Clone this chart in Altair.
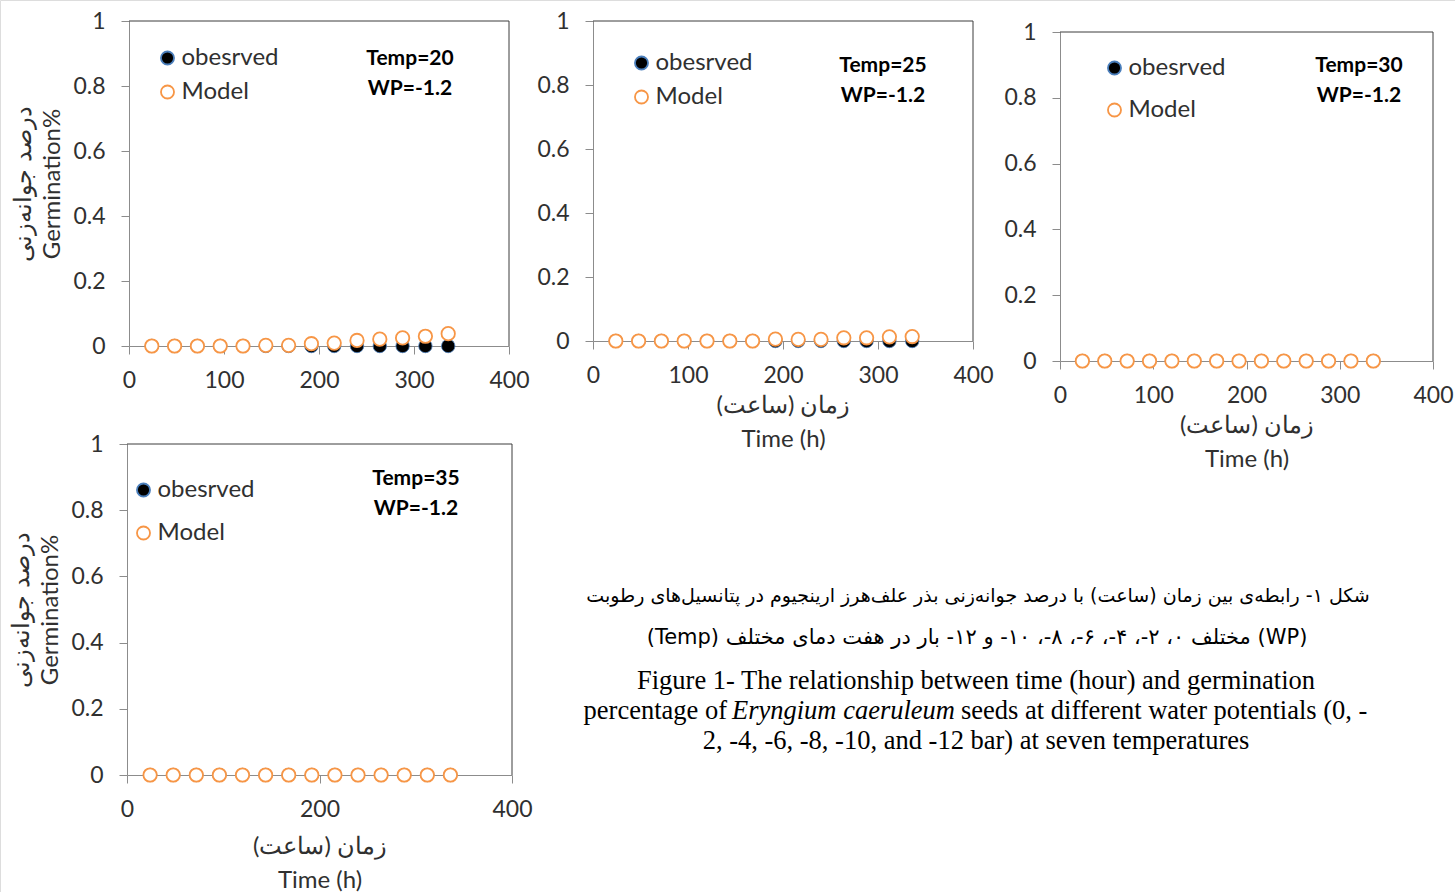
import altair as alt
import pandas as pd

# ---------------- data ----------------
hours = [24, 48, 72, 96, 120, 144, 168, 192, 216, 240, 264, 288, 312, 336]

observed_t20 = [0, 0, 0, 0, 0, 0, 0, 0, 0, 0, 0, 0, 0, 0]
model_t20 = [0, 0, 0, 0, 0, 0.002, 0.002, 0.007, 0.009, 0.017, 0.021, 0.025, 0.03, 0.038]

observed_t25 = [0, 0, 0, 0, 0, 0, 0, 0, 0, 0, 0, 0, 0, 0]
model_t25 = [0, 0, 0, 0, 0, 0, 0, 0.006, 0.005, 0.005, 0.01, 0.01, 0.013, 0.014]

observed_t30 = [0, 0, 0, 0, 0, 0, 0, 0, 0, 0, 0, 0, 0, 0]
model_t30 = [0, 0, 0, 0, 0, 0, 0, 0, 0, 0, 0, 0, 0, 0]

observed_t35 = [0, 0, 0, 0, 0, 0, 0, 0, 0, 0, 0, 0, 0, 0]
model_t35 = [0, 0, 0, 0, 0, 0, 0, 0, 0, 0, 0, 0, 0, 0]

series_names = ["obesrved", "Model"]
temp_labels = ["Temp=20", "Temp=25", "Temp=30", "Temp=35"]
wp_label = "WP=-1.2"

x_ticks_fine = [0, 100, 200, 300, 400]
x_ticks_coarse = [0, 200, 400]
y_ticks = [0, 0.2, 0.4, 0.6, 0.8, 1]

y_title = ["درصد جوانه‌زنی", "Germination%"]
x_title = ["زمان (ساعت)", "Time (h)"]

caption_fa = [
    "شکل ۱- رابطه‌ی بین زمان (ساعت) با درصد جوانه‌زنی بذر علف‌هرز ارینجیوم در پتانسیل‌های رطوبت",
    "(WP) مختلف ۰، ۲-، ۴-، ۶-، ۸-، ۱۰- و ۱۲- بار در هفت دمای مختلف (Temp)",
]
caption_en_1 = "Figure 1- The relationship between time (hour) and germination"
caption_en_2a = "percentage of"
caption_en_2b = "Eryngium caeruleum"
caption_en_2c = "seeds at different water potentials (0, -"
caption_en_3 = "2, -4, -6, -8, -10, and -12 bar) at seven temperatures"

# ---------------- styling ----------------
W, H = 1455, 892
FONT = "Lato"
TEXT = "#303030"
AXIS_GRAY = "#8c8c8c"
FRAME = "#3c3c3c"
RLE, PDF = "\u202b", "\u202c"


def x_axis(ticks, axis_y, title_pad):
    kw = dict(values=ticks, format="d", orient="bottom", offset=axis_y - H,
              grid=False, domainColor=AXIS_GRAY, tickColor=AXIS_GRAY,
              tickSize=8, labelFont=FONT, labelFontSize=23, labelColor=TEXT,
              labelPadding=15, labelFlush=False, labelOverlap=False)
    if title_pad is None:
        kw["title"] = None
    else:
        kw.update(title=x_title, titleFont=FONT, titleFontSize=24,
                  titleFontWeight="normal", titleColor=TEXT,
                  titlePadding=title_pad, titleLineHeight=34)
    return alt.Axis(**kw)


def y_axis(axis_x, title_pad):
    kw = dict(values=y_ticks, format=".1~f", orient="left", offset=-axis_x,
              grid=False, domainColor=AXIS_GRAY, tickColor=AXIS_GRAY,
              tickSize=8, labelFont=FONT, labelFontSize=23, labelColor=TEXT,
              labelPadding=16, labelOverlap=False)
    if title_pad is None:
        kw["title"] = None
    else:
        kw.update(title=y_title, titleFont=FONT, titleFontSize=24,
                  titleFontWeight="normal", titleColor=TEXT,
                  titlePadding=title_pad, titleLineHeight=29)
    return alt.Axis(**kw)


def panel(temp_label, observed, model, xr, yr, xticks, legend_pos, note_pos,
          x_title_pad, y_title_pad):
    pts = pd.DataFrame({
        "hour": hours + hours,
        "germ": observed + model,
        "series": [series_names[0]] * len(hours) + [series_names[1]] * len(hours),
    })
    frame = pd.DataFrame({"hour": [0, 400], "hour2": [400, 400],
                          "germ": [1, 0], "germ2": [1, 1]})

    xenc = alt.X("hour:Q", scale=alt.Scale(domain=[0, 400], range=list(xr), nice=False, zero=False),
                 axis=x_axis(xticks, yr[0], x_title_pad))
    yenc = alt.Y("germ:Q", scale=alt.Scale(domain=[0, 1], range=list(yr), nice=False, zero=False),
                 axis=y_axis(xr[0], y_title_pad))

    lx, ly, rowpad = legend_pos
    legend = alt.Legend(title=None, orient="none", legendX=lx, legendY=ly,
                        padding=0, rowPadding=rowpad, symbolType="circle",
                        symbolSize=170, symbolStrokeWidth=1.8, symbolOpacity=1,
                        labelFont=FONT, labelFontSize=24, labelColor=TEXT,
                        labelOffset=2)

    border = alt.Chart(frame).mark_rule(color=FRAME, strokeWidth=1).encode(
        x=xenc, x2="hour2:Q", y=yenc, y2="germ2:Q")

    dots = alt.Chart(pts).mark_point(filled=True, size=180, opacity=1).encode(
        x=xenc, y=yenc,
        fill=alt.Fill("series:N", scale=alt.Scale(domain=series_names, range=["#000000", "#ffffff"]),
                      legend=legend),
        stroke=alt.Stroke("series:N", scale=alt.Scale(domain=series_names, range=["#4a7ebb", "#f79646"]),
                          legend=legend),
        strokeWidth=alt.StrokeWidth("series:N", scale=alt.Scale(domain=series_names, range=[0.8, 1.8]),
                                    legend=None),
    )

    nx, ny = note_pos
    note = alt.Chart(pd.DataFrame({"t": [temp_label]})).mark_text(
        font=FONT, fontSize=21, fontWeight="bold", color="#000000",
        align="center", baseline="middle", lineHeight=30,
        text=[temp_label, wp_label]).encode(x=alt.value(nx), y=alt.value(ny))

    return alt.layer(border, dots, note)


p20 = panel(temp_labels[0], observed_t20, model_t20, (129, 509), (346, 21), x_ticks_fine,
            (155.5, 46, 10), (410, 59), None, 8)
p25 = panel(temp_labels[1], observed_t25, model_t25, (593, 973), (341, 21), x_ticks_fine,
            (629.5, 51, 10), (883, 66), 6, None)
p30 = panel(temp_labels[2], observed_t30, model_t30, (1060, 1433), (361, 32), x_ticks_fine,
            (1102.5, 56, 18), (1359, 66), 6, None)
p35 = panel(temp_labels[3], observed_t35, model_t35, (127, 512), (775, 444), x_ticks_coarse,
            (131.5, 478, 19), (416, 479), 13, 8)


def caption_line(text, x, y, font, size, align="center", style="normal"):
    return alt.Chart(pd.DataFrame({"t": [text]})).mark_text(
        font=font, fontSize=size, fontStyle=style, color="#000000",
        align=align, baseline="middle").encode(
        text="t:N", x=alt.value(x), y=alt.value(y))


captions = [
    caption_line(RLE + caption_fa[0] + PDF, 978, 596, "DejaVu Sans", 19),
    caption_line(RLE + caption_fa[1] + PDF, 977, 638, "DejaVu Sans", 21),
    caption_line(caption_en_1, 976, 681, "Liberation Serif", 26.5),
    caption_line(caption_en_2a, 727, 711, "Liberation Serif", 26.5, align="right"),
    caption_line(caption_en_2b, 732, 711, "Liberation Serif", 26.5, align="left", style="italic"),
    caption_line(caption_en_2c, 961, 711, "Liberation Serif", 26.5, align="left"),
    caption_line(caption_en_3, 976, 741, "Liberation Serif", 26.5),
]

chart = alt.layer(p20, p25, p30, p35, *captions).resolve_scale(
    x="independent", y="independent", fill="independent", stroke="independent"
).resolve_axis(
    x="independent", y="independent"
).resolve_legend(
    fill="independent", stroke="independent"
).properties(
    width=W, height=H, padding=0, autosize=alt.AutoSizeParams(type="none")
).configure_view(stroke=None).configure(background="white")

chart.save("out.html", embed_options={"renderer": "svg", "actions": False})
